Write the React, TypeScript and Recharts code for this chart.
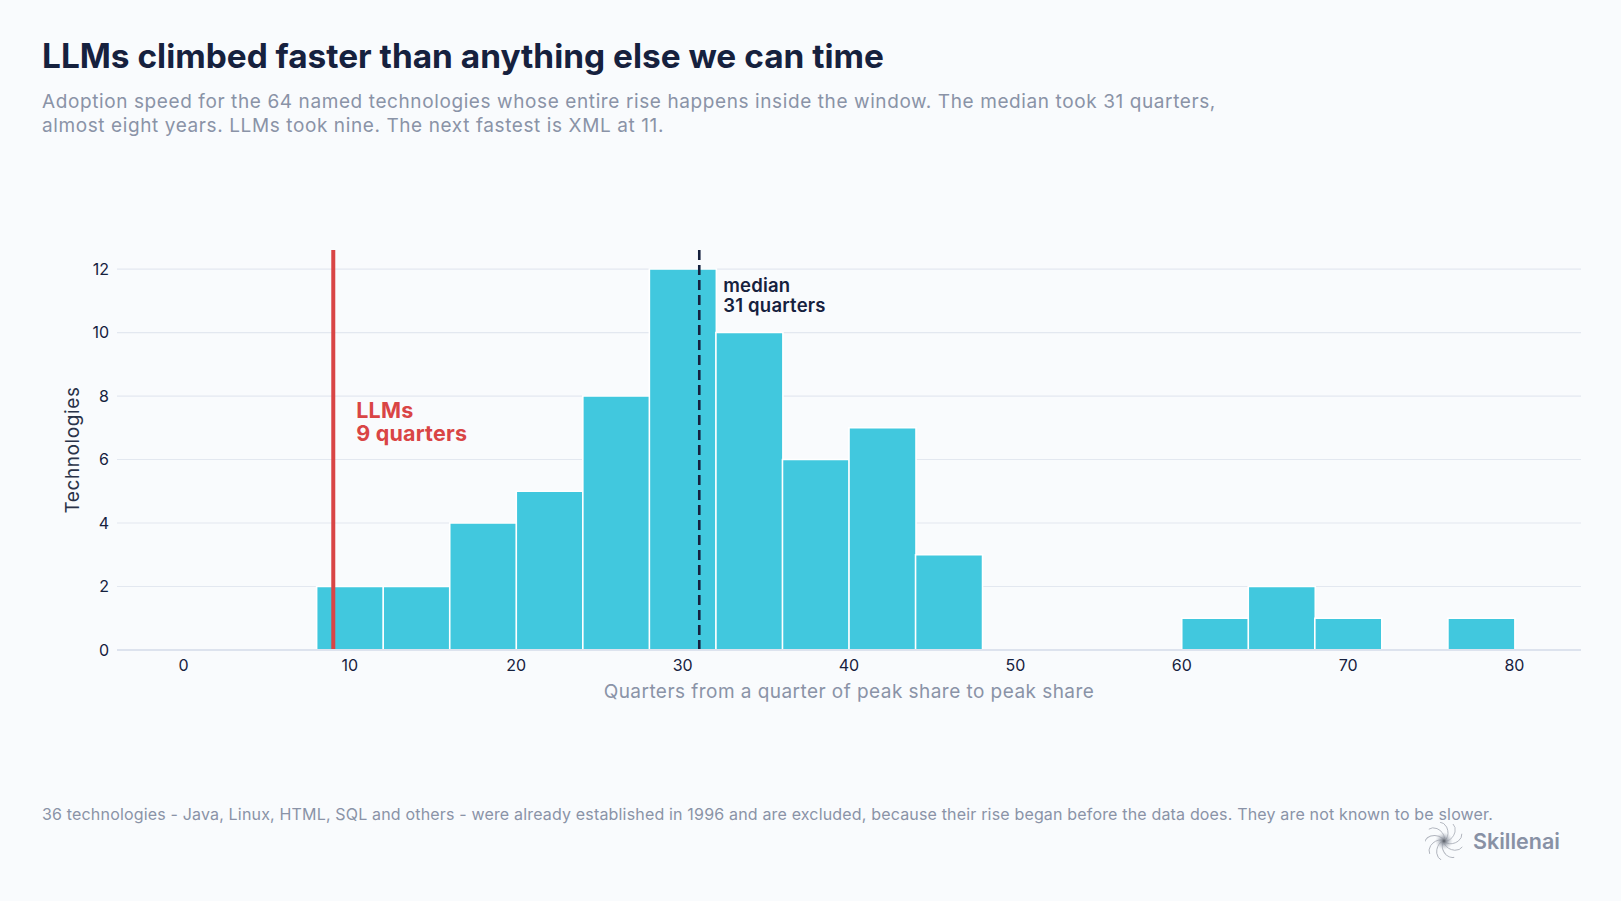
import React from 'react';
import {
  ComposedChart,
  Bar,
  XAxis,
  YAxis,
  CartesianGrid,
  ReferenceLine,
  Label,
} from 'recharts';

// histogram bins, 4 quarters wide, left edges
const binStarts = [-4, 0, 4, 8, 12, 16, 20, 24, 28, 32, 36, 40, 44, 48, 52, 56, 60, 64, 68, 72, 76, 80];
const binCounts = [0, 0, 0, 2, 2, 4, 5, 8, 12, 10, 6, 7, 3, 0, 0, 0, 1, 2, 1, 0, 1, 0];
const xTicks = [0, 10, 20, 30, 40, 50, 60, 70, 80];
const yTicks = [0, 2, 4, 6, 8, 10, 12];
const llmQuarters = 9;
const medianQuarters = 31;

const FONT = 'Inter, "Noto Sans", sans-serif';
const NAVY = '#16213e';
const MUTED = '#8a93a7';
const BAR = '#41c8de';
const RED = '#d94545';
const BG = '#f9fbfd';

const chartData = binStarts.map((s, i) => ({ bin: `${s}`, start: s, count: binCounts[i] }));

function LlmLabel(props: any) {
  const { x, y } = props.viewBox || {};
  return (
    <text x={x + 23} y={y} fill={RED} fontFamily={FONT} fontSize={21.5} fontWeight={700} letterSpacing={0.2}>
      <tspan x={x + 23} dy={168}>LLMs</tspan>
      <tspan x={x + 23} dy={23}>{`${llmQuarters} quarters`}</tspan>
    </text>
  );
}

function MedianLabel(props: any) {
  const { x, y } = props.viewBox || {};
  return (
    <text x={x + 24} y={y} fill={NAVY} fontFamily={FONT} fontSize={18.5} fontWeight={600} letterSpacing={0.2}>
      <tspan x={x + 24} dy={42}>median</tspan>
      <tspan x={x + 24} dy={20}>{`${medianQuarters} quarters`}</tspan>
    </text>
  );
}

function SpiralIcon() {
  const arms = [0, 40, 80, 120, 160, 200, 240, 280, 320];
  return (
    <svg width={38} height={38} viewBox="-19 -19 38 38">
      <defs>
        <radialGradient id="core">
          <stop offset="0%" stopColor="#50555f" />
          <stop offset="45%" stopColor="#9aa0ab" stopOpacity={0.7} />
          <stop offset="100%" stopColor="#c8ccd3" stopOpacity={0} />
        </radialGradient>
      </defs>
      {arms.map((a) => (
        <path
          key={a}
          d="M 3 0 Q 9 -2 11 -9 Q 12 -14 9 -17"
          fill="none"
          stroke="#b0b4bd"
          strokeWidth={0.9}
          transform={`rotate(${a})`}
        />
      ))}
      <circle r={9} fill="url(#core)" />
    </svg>
  );
}

export default function App() {
  return (
    <div style={{ position: 'relative', width: 1621, height: 901, background: BG, fontFamily: FONT, overflow: 'hidden' }}>
      <style>{`body{margin:0;background:${BG};}`}</style>
      <div style={{ position: 'absolute', left: 42, top: 36, fontSize: 33.4, fontWeight: 700, color: NAVY, lineHeight: '40px', whiteSpace: 'nowrap' }}>
        LLMs climbed faster than anything else we can time
      </div>
      <div style={{ position: 'absolute', left: 42, top: 90, width: 1300, fontSize: 19, letterSpacing: 0.6, color: MUTED, lineHeight: '24px', whiteSpace: 'nowrap' }}>
        Adoption speed for the 64 named technologies whose entire rise happens inside the window. The median took 31 quarters,
        <br />
        almost eight years. LLMs took nine. The next fastest is XML at 11.
      </div>

      <div style={{ position: 'absolute', left: 0, top: 0 }}>
        <ComposedChart
          width={1621}
          height={760}
          data={chartData}
          barCategoryGap={0}
          barGap={0}
          margin={{ top: 250, right: 40, left: 57, bottom: 80 }}
        >
          <CartesianGrid vertical={false} horizontalValues={yTicks} stroke="#e3e8f0" strokeWidth={1.2} />
          <XAxis xAxisId="cat" dataKey="bin" type="category" hide height={0} />
          <XAxis
            xAxisId="num"
            dataKey="start"
            type="number"
            domain={[-4, 84]}
            ticks={xTicks}
            allowDataOverflow
            height={30}
            tickLine={false}
            tickMargin={4}
            axisLine={{ stroke: '#dde3ee', strokeWidth: 2 }}
            tick={{ fill: NAVY, fontSize: 16, fontFamily: FONT }}
          >
            <Label
              value="Quarters from a quarter of peak share to peak share"
              position="bottom"
              offset={5}
              style={{ fill: MUTED, fontSize: 19, letterSpacing: 0.45, fontFamily: FONT }}
            />
          </XAxis>
          <YAxis
            domain={[0, 12.6]}
            ticks={yTicks}
            width={60}
            axisLine={false}
            tickLine={false}
            tick={{ fill: NAVY, fontSize: 16, fontFamily: FONT }}
          >
            <Label
              value="Technologies"
              angle={-90}
              position="insideLeft"
              offset={15}
              style={{ textAnchor: 'middle', fill: '#2a3348', fontSize: 19, letterSpacing: 0.6, fontFamily: FONT }}
            />
          </YAxis>
          <Bar
            xAxisId="cat"
            dataKey="count"
            fill={BAR}
            stroke="#ffffff"
            strokeWidth={1.6}
            isAnimationActive={false}
          />
          <ReferenceLine
            xAxisId="num"
            x={llmQuarters}
            stroke={RED}
            strokeWidth={4}
            label={<LlmLabel />}
          />
          <ReferenceLine
            xAxisId="num"
            x={medianQuarters}
            stroke={NAVY}
            strokeWidth={2.6}
            strokeDasharray="10 5"
            label={<MedianLabel />}
          />
        </ComposedChart>
      </div>

      <div style={{ position: 'absolute', left: 42, top: 804, fontSize: 16, letterSpacing: 0.17, color: MUTED, lineHeight: '20px', whiteSpace: 'nowrap' }}>
        36 technologies - Java, Linux, HTML, SQL and others - were already established in 1996 and are excluded, because their rise began before the data does. They are not known to be slower.
      </div>
      <div style={{ position: 'absolute', left: 1425, top: 822, display: 'flex', alignItems: 'center', gap: 10 }}>
        <SpiralIcon />
        <span style={{ fontSize: 21.5, fontWeight: 600, color: '#8891a5' }}>Skillenai</span>
      </div>
    </div>
  );
}
